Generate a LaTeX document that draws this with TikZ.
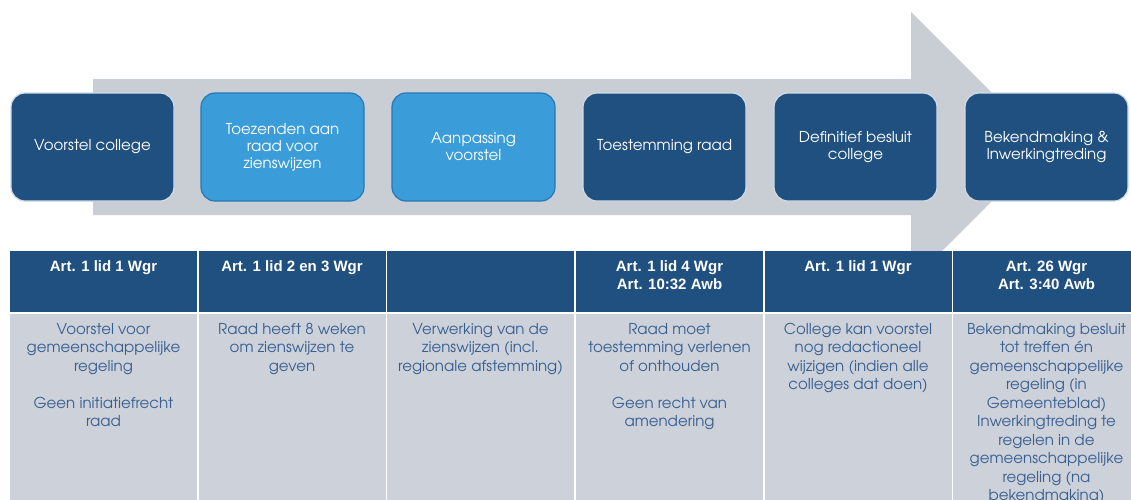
\documentclass[tikz,border=0pt]{standalone}
\usepackage{fontspec}
\setmainfont{TeX Gyre Adventor}
\newfontfamily\hdrfont{Liberation Sans}
\definecolor{darkblue}{RGB}{32,80,128}
\definecolor{lightblue}{RGB}{58,157,218}
\definecolor{lightblueedge}{RGB}{40,120,180}
\definecolor{arrowgray}{RGB}{201,205,212}
\definecolor{cellgray}{RGB}{205,209,217}
\definecolor{bodytext}{RGB}{55,95,145}
\begin{document}
\begin{tikzpicture}[x=1pt,y=-1pt,
  stepbox/.style={rounded corners=14pt, minimum width=163pt, minimum height=108pt,
    inner sep=0pt, align=center, text=white, line width=1.2pt,
    font=\fontsize{15}{17}\selectfont},
  darkbox/.style={stepbox, fill=darkblue, draw=white!80!darkblue},
  lightbox/.style={stepbox, fill=lightblue, draw=lightblueedge},
  hcell/.style={fill=darkblue, minimum width=187pt, minimum height=61pt, inner sep=0pt},
  bcell/.style={fill=cellgray, minimum width=187pt, minimum height=206pt, inner sep=0pt},
  htext/.style={anchor=north, inner sep=0pt, align=center, text=white,
    font=\hdrfont\bfseries\fontsize{15}{18}\selectfont},
  btext/.style={anchor=north, inner sep=0pt, align=center, text=bodytext,
    font=\fontsize{15}{18.5}\selectfont}
]
\useasboundingbox (0,0) rectangle (1131,499);
\fill[white] (0,0) rectangle (1131,499);

% big arrow
\fill[arrowgray] (93,79) -- (911,79) -- (911,12) -- (1046,147) -- (911,282)
  -- (911,215) -- (93,215) -- cycle;

% step boxes
\node[darkbox]  (s1) at (92.5,147)  {Voorstel college};
\node[lightbox] (s2) at (282.5,147) {Toezenden aan\\raad voor\\zienswijzen};
\node[lightbox] (s3) at (473.5,147) {Aanpassing\\voorstel};
\node[darkbox]  (s4) at (664.5,147) {Toestemming raad};
\node[darkbox]  (s5) at (855.5,147) {Definitief besluit\\college};
\node[darkbox]  (s6) at (1046.5,147) {Bekendmaking \&\\Inwerkingtreding};

% table header cells
\node[hcell] (h1) at (103.5,281.5) {};
\node[hcell] (h2) at (292,281.5) {};
\node[hcell] (h3) at (480.5,281.5) {};
\node[hcell] (h4) at (669.5,281.5) {};
\node[hcell] (h5) at (858,281.5) {};
\node[hcell] (h6) at (1046.5,281.5) {};

% table body cells
\node[bcell] (b1) at (103.5,417) {};
\node[bcell] (b2) at (292,417) {};
\node[bcell] (b3) at (480.5,417) {};
\node[bcell] (b4) at (669.5,417) {};
\node[bcell] (b5) at (858,417) {};
\node[bcell] (b6) at (1046.5,417) {};

% header texts
\node[htext] (ht1) at (103.5,260.5) {Art. 1 lid 1 Wgr};
\node[htext] (ht2) at (292,260.5) {Art. 1 lid 2 en 3 Wgr};
\node[htext] (ht4) at (669.5,260.5) {Art. 1 lid 4 Wgr\\Art. 10:32 Awb};
\node[htext] (ht5) at (858,260.5) {Art. 1 lid 1 Wgr};
\node[htext] (ht6) at (1046.5,260.5) {Art. 26 Wgr\\Art. 3:40 Awb};

% body texts
\node[btext] (bt1) at (103.5,323) {Voorstel voor\\gemeenschappelijke\\regeling\\[18.5pt]Geen initiatiefrecht\\raad};
\node[btext] (bt2) at (292,323) {Raad heeft 8 weken\\om zienswijzen te\\geven};
\node[btext] (bt3) at (480.5,323) {Verwerking van de\\zienswijzen (incl.\\regionale afstemming)};
\node[btext] (bt4) at (669.5,323) {Raad moet\\toestemming verlenen\\of onthouden\\[18.5pt]Geen recht van\\amendering};
\node[btext] (bt5) at (858,323) {College kan voorstel\\nog redactioneel\\wijzigen (indien alle\\colleges dat doen)};
\node[btext] (bt6) at (1046.5,323) {Bekendmaking besluit\\tot treffen én\\gemeenschappelijke\\regeling (in\\Gemeenteblad)\\Inwerkingtreding te\\regelen in de\\gemeenschappelijke\\regeling (na\\bekendmaking)};
\end{tikzpicture}
\end{document}
